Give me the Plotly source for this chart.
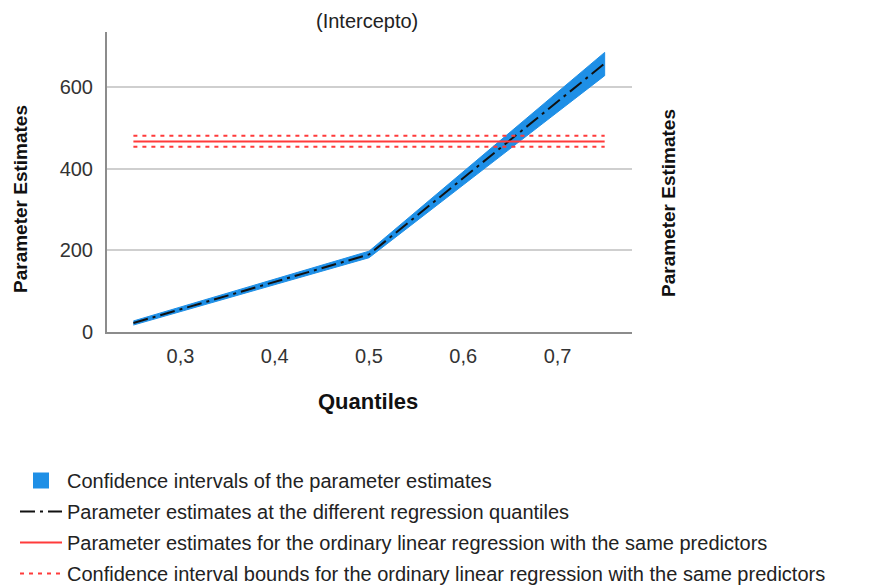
import plotly.graph_objects as go

# ---- data ----
quantiles = [0.25, 0.5, 0.75]
estimates = [22, 190, 658]
ci_lower = [17, 182, 628]
ci_upper = [27, 198, 685]
ols_estimate = 467
ols_lower = 454
ols_upper = 481

x_ticks = [0.3, 0.4, 0.5, 0.6, 0.7]
y_ticks = [0, 200, 400, 600]

title_text = "(Intercepto)"
x_title = "Quantiles"
y_title = "Parameter Estimates"
legend_labels = [
    "Confidence intervals of the parameter estimates",
    "Parameter estimates at the different regression quantiles",
    "Parameter estimates for the ordinary linear regression with the same predictors",
    "Confidence interval bounds for the ordinary linear regression with the same predictors",
]

BLUE = "#1e8fe6"
RED = "#ff3b3b"
FONT = "Liberation Sans, Arial, sans-serif"

fig = go.Figure()

# CI band
fig.add_trace(go.Scatter(
    x=quantiles + quantiles[::-1],
    y=ci_upper + ci_lower[::-1],
    fill="toself", fillcolor=BLUE, mode="lines",
    line=dict(color=BLUE, width=1),
    showlegend=False, hoverinfo="skip",
))
# legend proxy for band (square)
fig.add_trace(go.Scatter(
    x=[None], y=[None], mode="markers",
    marker=dict(symbol="square", size=18, color=BLUE),
    name=legend_labels[0], legendgroup="g0",
))
# quantile estimates
fig.add_trace(go.Scatter(
    x=quantiles, y=estimates, mode="lines",
    line=dict(color="#111111", width=2, dash="15px,5px,3px,5px"),
    name=legend_labels[1], legendgroup="g1",
))
# OLS estimate
fig.add_trace(go.Scatter(
    x=[quantiles[0], quantiles[-1]], y=[ols_estimate, ols_estimate], mode="lines",
    line=dict(color=RED, width=2),
    name=legend_labels[2], legendgroup="g2",
))
# OLS CI bounds
fig.add_trace(go.Scatter(
    x=[quantiles[0], quantiles[-1]], y=[ols_lower, ols_lower], mode="lines",
    line=dict(color=RED, width=2, dash="4px,5px"),
    name=legend_labels[3], legendgroup="g3",
))
fig.add_trace(go.Scatter(
    x=[quantiles[0], quantiles[-1]], y=[ols_upper, ols_upper], mode="lines",
    line=dict(color=RED, width=2, dash="4px,5px"),
    showlegend=False, legendgroup="g3",
))

fig.update_layout(
    width=884, height=587,
    margin=dict(l=107, r=252, t=32, b=255, autoexpand=False),
    paper_bgcolor="white", plot_bgcolor="white",
    separators=",.",
    font=dict(family=FONT, size=20, color="#222222"),
    showlegend=True,
    legend=dict(
        x=(15 - 107) / 525, xanchor="left",
        y=(332 - 461) / 300, yanchor="top",
        bgcolor="rgba(0,0,0,0)",
        font=dict(family=FONT, size=20, color="#222222"),
        itemwidth=42, tracegroupgap=2,
        traceorder="grouped",
    ),
    xaxis=dict(
        range=[0.222, 0.779], tickvals=x_ticks, tickformat=".1f",
        showgrid=False, zeroline=False,
        showline=True, linecolor="#8c8c8c", linewidth=2,
        ticks="", ticklabelstandoff=5,
        tickfont=dict(size=20, color="#333333"),
    ),
    yaxis=dict(
        range=[0, 735], tickvals=y_ticks,
        showgrid=True, gridcolor="#cfcfcf", gridwidth=1.5,
        zeroline=False,
        showline=True, linecolor="#8c8c8c", linewidth=2,
        ticks="", ticklabelstandoff=8,
        tickfont=dict(size=20, color="#333333"),
    ),
    annotations=[
        dict(text=title_text, x=(367 - 107) / 525, y=(332 - 21) / 300,
             xref="paper", yref="paper", showarrow=False,
             xanchor="center", yanchor="middle",
             font=dict(family=FONT, size=20, color="#222222")),
        dict(text="<b>" + x_title + "</b>", x=(368 - 107) / 525, y=(332 - 401) / 300,
             xref="paper", yref="paper", showarrow=False,
             xanchor="center", yanchor="middle",
             font=dict(family=FONT, size=22, color="#111111")),
        dict(text="<b>" + y_title + "</b>", x=(20 - 107) / 525, y=(332 - 199) / 300,
             xref="paper", yref="paper", showarrow=False, textangle=-90,
             xanchor="center", yanchor="middle",
             font=dict(family=FONT, size=19, color="#111111")),
        dict(text="<b>" + y_title + "</b>", x=(668 - 107) / 525, y=(332 - 203) / 300,
             xref="paper", yref="paper", showarrow=False, textangle=-90,
             xanchor="center", yanchor="middle",
             font=dict(family=FONT, size=19, color="#111111")),
    ],
)

fig.write_html("out.html")
